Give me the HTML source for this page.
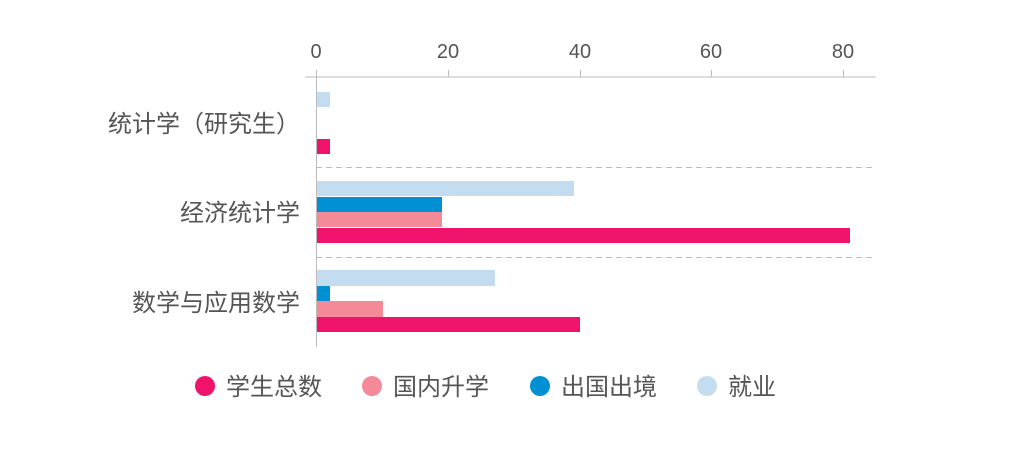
<!DOCTYPE html>
<html><head><meta charset="utf-8"><style>
body{margin:0;background:#fff;}
svg text{font-family:"Liberation Sans","Noto Sans CJK SC",sans-serif;fill:#555;}
</style></head><body>
<svg width="1021" height="445" xmlns="http://www.w3.org/2000/svg">
<g font-size="20" text-anchor="middle">
<text x="316" y="58">0</text><text x="448" y="58">20</text><text x="580" y="58">40</text><text x="711" y="58">60</text><text x="843" y="58">80</text>
</g>
<g stroke="#bbb" stroke-width="1">
<line x1="305" y1="77" x2="876" y2="77"/>
<line x1="316.5" y1="70" x2="316.5" y2="347"/>
<line x1="448.5" y1="70" x2="448.5" y2="77"/><line x1="580.5" y1="70" x2="580.5" y2="77"/><line x1="711.5" y1="70" x2="711.5" y2="77"/><line x1="843.5" y1="70" x2="843.5" y2="77"/>
<line x1="316" y1="167.5" x2="876" y2="167.5" stroke-dasharray="6,4"/>
<line x1="316" y1="257.5" x2="876" y2="257.5" stroke-dasharray="6,4"/>
</g>
<rect x="317" y="92" width="13" height="15" fill="#c3dcf0"/>
<rect x="317" y="139" width="13" height="15" fill="#f0136b"/>
<rect x="317" y="181" width="257" height="15" fill="#c3dcf0"/>
<rect x="317" y="197" width="125" height="15" fill="#0090d3"/>
<rect x="317" y="212" width="125" height="15" fill="#f48a98"/>
<rect x="317" y="228" width="533" height="15" fill="#f0136b"/>
<rect x="317" y="270" width="178" height="16" fill="#c3dcf0"/>
<rect x="317" y="286" width="13" height="15" fill="#0090d3"/>
<rect x="317" y="301" width="66" height="16" fill="#f48a98"/>
<rect x="317" y="317" width="263" height="15" fill="#f0136b"/>
<g font-size="24" text-anchor="end">
<text x="300" y="132">统计学（研究生）</text>
<text x="300" y="221">经济统计学</text>
<text x="300" y="311">数学与应用数学</text>
</g>
<g font-size="24">
<circle cx="205" cy="386" r="10" fill="#f0136b"/><text x="226" y="395">学生总数</text>
<circle cx="372" cy="386" r="10" fill="#f48a98"/><text x="393" y="395">国内升学</text>
<circle cx="540" cy="386" r="10" fill="#0090d3"/><text x="561" y="395">出国出境</text>
<circle cx="707" cy="386" r="10" fill="#c3dcf0"/><text x="728" y="395">就业</text>
</g>
</svg>
</body></html>
